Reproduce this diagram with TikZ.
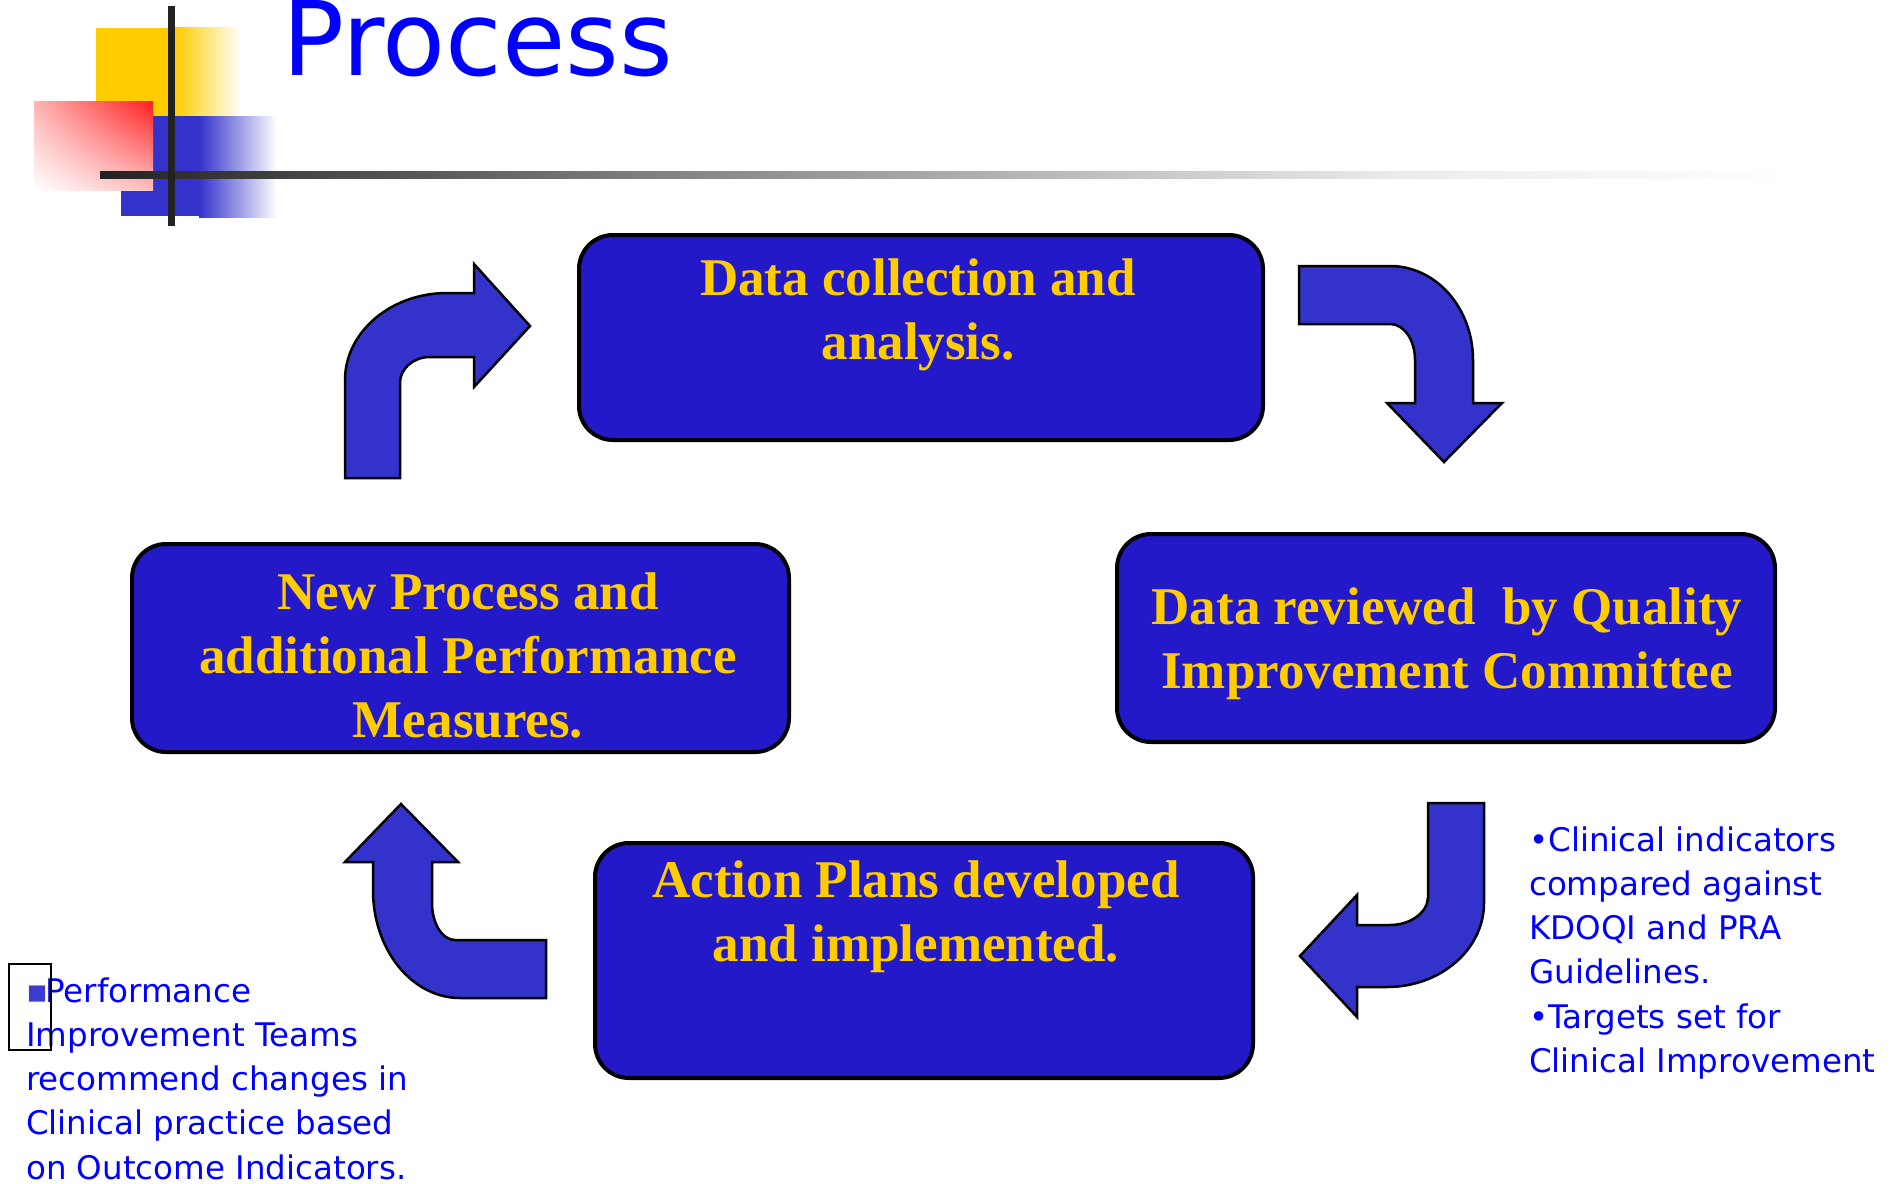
\documentclass[tikz,border=0pt]{standalone}
\usepackage{fontspec}
\usepackage{graphicx}
\usetikzlibrary{shadings}
\setmainfont{Liberation Serif}
\newfontfamily\sidefont{DejaVu Sans}
\definecolor{boxfill}{RGB}{35,25,200}
\definecolor{arrfill}{RGB}{51,51,204}
\definecolor{goldtxt}{RGB}{255,204,0}
\definecolor{txtblue}{RGB}{0,0,255}
\definecolor{logoblue}{RGB}{51,51,204}
\definecolor{logoyellow}{RGB}{255,204,0}
\definecolor{darkline}{RGB}{34,34,34}
\definecolor{midline}{RGB}{136,136,136}
\definecolor{lightline}{RGB}{235,235,235}
\definecolor{bulc}{RGB}{60,60,210}
\tikzset{
  procbox/.style={draw=black, line width=4pt, fill=boxfill, rounded corners=34pt, inner sep=0pt},
  boxtext/.style={text=goldtxt, inner sep=0pt, anchor=base, font=\bfseries\fontsize{53}{64}\selectfont},
  bentarrow/.style={draw=black, line width=2.5pt, fill=arrfill, line join=miter},
  sidetext/.style={text=txtblue, inner sep=0pt, anchor=base west, font=\sidefont\fontsize{32.5}{44.3}\selectfont}
}
\begin{document}
\begin{tikzpicture}[x=1pt,y=-1pt]
\useasboundingbox (0,0) rectangle (1902,1183);
\fill[white] (0,0) rectangle (1902,1183);

% logo
\fill[logoyellow] (96,28) rectangle (175,116);
\shade[left color=logoyellow, right color=white] (175,27) rectangle (241,116);
\fill[logoblue] (121,116) rectangle (199,216);
\shade[left color=logoblue, right color=white] (199,116) rectangle (277,217);
\shade[upper right=red!88, upper left=red!30, lower right=red!25, lower left=white] (34,101) rectangle (153,190);
\shade[left color=darkline, right color=midline] (100,171) rectangle (700,178);
\shade[left color=midline, right color=lightline] (699,171) rectangle (1400,178);
\shade[left color=lightline, right color=white] (1399,171) rectangle (1800,178);
\fill[darkline] (168,6) rectangle (175,226);

% title
\node[anchor=base west, inner sep=0pt, text=txtblue, font=\sidefont\fontsize{103}{112}\selectfont] (title) at (282,75) {Process};

% boxes
\node[procbox, minimum width=684pt, minimum height=205pt] (b1) at (921,337.5) {};
\node[procbox, minimum width=658pt, minimum height=208pt] (b2) at (1446,638) {};
\node[procbox, minimum width=658pt, minimum height=235pt] (b3) at (924,960.5) {};
\node[procbox, minimum width=657pt, minimum height=208pt] (b4) at (460.5,648) {};

\node[boxtext] (t1) at (918,295) {\begin{tabular}[t]{c}Data collection and\\analysis.\end{tabular}};
\node[boxtext] (t2) at (1447,624) {\begin{tabular}[t]{c}Data reviewed\ \ by Quality\\Improvement Committee\end{tabular}};
\node[boxtext] (t3) at (916,897) {\begin{tabular}[t]{c}Action Plans developed\\and implemented.\end{tabular}};
\node[boxtext] (t4) at (468,609) {\begin{tabular}[t]{c}New Process and\\additional Performance\\Measures.\end{tabular}};

% bent arrows
\path[bentarrow] (345,478) -- (345,380) .. controls (345,332) and (391,293) .. (447,293) -- (474,293) -- (474,264) -- (530,326) -- (474,387) -- (474,357) -- (430,357) .. controls (413,357) and (400,369) .. (400,383) -- (400,478) -- cycle;
\path[bentarrow] (1299,266) -- (1390,266) .. controls (1436,266) and (1473,308) .. (1473,360) -- (1473,403) -- (1502,403) -- (1444,462) -- (1387,403) -- (1415,403) -- (1415,360) .. controls (1415,340) and (1404,324) .. (1390,324) -- (1299,324) -- cycle;
\path[bentarrow] (1428,803) -- (1484,803) -- (1484,903) .. controls (1484,949) and (1441,987) .. (1387,987) -- (1357,987) -- (1357,1017) -- (1300,956) -- (1357,895) -- (1357,925) -- (1390,925) .. controls (1411,925) and (1428,912) .. (1428,897) -- cycle;
\path[bentarrow] (546,940) -- (546,998) -- (460,998) .. controls (412,998) and (373,950) .. (373,890) -- (373,862) -- (345,862) -- (401,804) -- (458,862) -- (432,862) -- (432,903) .. controls (432,923) and (442,940) .. (455,940) -- cycle;

% side texts
\node[sidetext] (rt) at (1529,851) {\begin{tabular}[t]{@{}l@{}}•Clinical indicators\\compared against\\KDOQI and PRA\\Guidelines.\\•Targets set for\\Clinical Improvement\end{tabular}};
\node[sidetext] (lt) at (26,1002) {\begin{tabular}[t]{@{}l@{}}\makebox[19pt][l]{\color{bulc}▪}Performance\\Improvement Teams\\recommend changes in\\Clinical practice based\\on Outcome Indicators.\end{tabular}};
\node[draw=black, line width=1.5pt, minimum width=42pt, minimum height=86pt, inner sep=0pt, anchor=north west] (frame) at (8,963) {};
\end{tikzpicture}
\end{document}
